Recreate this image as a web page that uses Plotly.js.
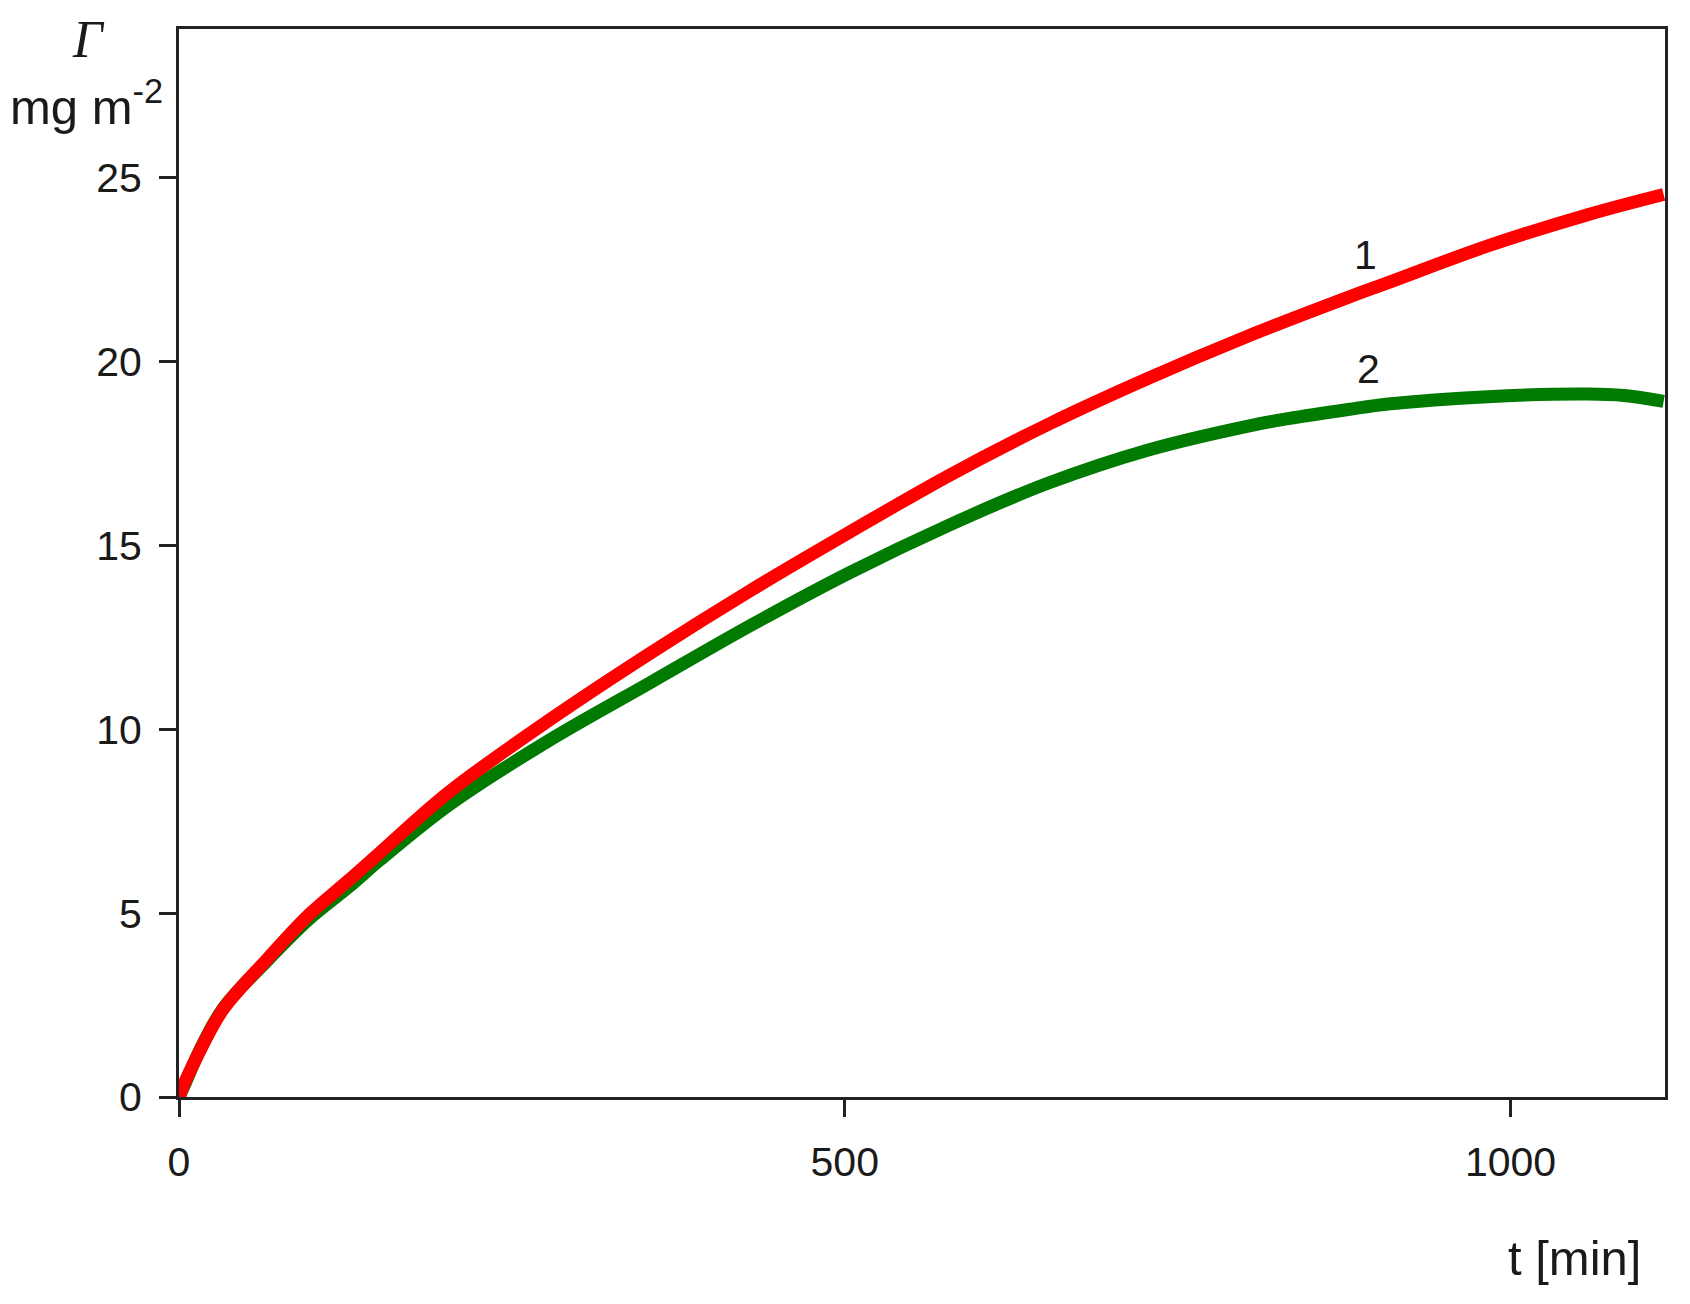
<!DOCTYPE html>
<html>
<head>
<meta charset="utf-8">
<script src="https://cdn.plot.ly/plotly-3.0.1.min.js"></script>
<style>html,body{margin:0;padding:0;background:#fff;}#chart{width:1690px;height:1304px;}</style>
</head>
<body>
<div id="chart"></div>
<script>
// time [min]
const tRed = [0, 5, 16, 33, 66, 98, 128, 151, 203, 278, 353, 428, 503, 578, 653, 728, 803, 878, 908, 983, 1058, 1115];
const gammaRed = [0, 0.45, 1.28, 2.38, 3.74, 4.97, 5.91, 6.65, 8.3, 10.25, 12.05, 13.75, 15.35, 16.9, 18.3, 19.55, 20.7, 21.75, 22.15, 23.15, 24.0, 24.55];
const tGreen = [0, 5, 16, 33, 66, 98, 128, 151, 203, 278, 353, 428, 503, 578, 653, 728, 803, 833, 878, 908, 983, 1058, 1085, 1115];
const gammaGreen = [0, 0.4, 1.3, 2.4, 3.7, 4.85, 5.73, 6.45, 7.95, 9.7, 11.25, 12.8, 14.25, 15.55, 16.7, 17.6, 18.25, 18.45, 18.7, 18.85, 19.05, 19.12, 19.08, 18.92];
const xTicks = [0, 500, 1000];
const yTicks = [0, 5, 10, 15, 20, 25];
const curveLabels = ["1", "2"];
const labelPos = [[891, 22.9], [893.5, 19.8]];

const traces = [
  {x: tGreen, y: gammaGreen, mode: 'lines', line: {color: '#007a00', width: 13, shape: 'spline'}, name: '2', showlegend: false},
  {x: tRed, y: gammaRed, mode: 'lines', line: {color: '#ff0000', width: 13, shape: 'spline'}, name: '1', showlegend: false}
];

const tickFont = {family: 'Liberation Sans, Arial, sans-serif', size: 41, color: '#1a1a1a'};
const axisCommon = {
  showgrid: false, zeroline: false, showline: true, linecolor: '#222', linewidth: 3,
  mirror: true, ticks: 'outside', ticklen: 17, tickwidth: 3, tickcolor: '#222',
  tickfont: tickFont, fixedrange: true
};

const layout = {
  width: 1690, height: 1304,
  margin: {l: 179, r: 25, t: 29, b: 207},
  paper_bgcolor: '#fff', plot_bgcolor: '#fff',
  xaxis: Object.assign({}, axisCommon, {range: [0, 1116], tickvals: xTicks, ticktext: xTicks.map(String), ticklabelstandoff: 10}),
  yaxis: Object.assign({}, axisCommon, {range: [0, 29.05], tickvals: yTicks, ticktext: yTicks.map(String), ticklabelstandoff: 9}),
  annotations: [
    {text: curveLabels[0], x: labelPos[0][0], y: labelPos[0][1], xref: 'x', yref: 'y', showarrow: false, font: tickFont},
    {text: curveLabels[1], x: labelPos[1][0], y: labelPos[1][1], xref: 'x', yref: 'y', showarrow: false, font: tickFont},
    {text: 'Γ', xref: 'paper', yref: 'paper', x: -0.061, y: 0.990, xanchor: 'center', yanchor: 'middle', showarrow: false,
     font: {family: 'Liberation Serif, Times New Roman, serif', size: 52, color: '#1a1a1a', style: 'italic'}},
    {text: 'mg m<sup>-2</sup>', xref: 'paper', yref: 'paper', x: -0.0092, y: (1097 - 103) / 1068, xanchor: 'right', yanchor: 'middle', showarrow: false,
     font: {family: 'Liberation Sans, Arial, sans-serif', size: 49, color: '#1a1a1a'}},
    {text: 't [min]', xref: 'paper', yref: 'paper', x: 0.9388, y: -0.1505, xanchor: 'center', yanchor: 'middle', showarrow: false,
     font: {family: 'Liberation Sans, Arial, sans-serif', size: 49, color: '#1a1a1a'}}
  ]
};

Plotly.newPlot('chart', traces, layout, {displayModeBar: false, staticPlot: true});
</script>
</body>
</html>
